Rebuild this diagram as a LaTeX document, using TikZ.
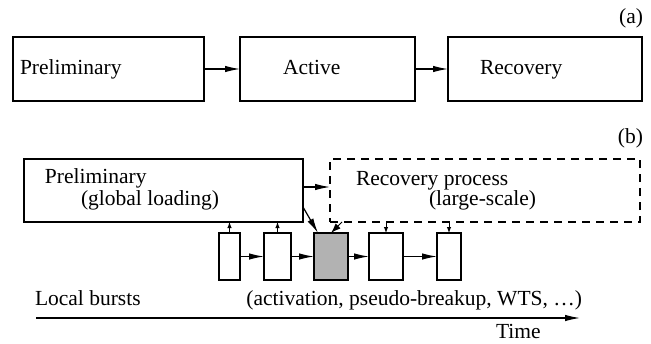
\documentclass[tikz,border=0pt]{standalone}
\usepackage{fontspec}
\setmainfont{Liberation Serif}
\newfontfamily\tmsfont{Liberation Serif}
\usetikzlibrary{arrows.meta}
\begin{document}
\begin{tikzpicture}[x=1pt,y=-1pt,
  every node/.style={inner sep=0pt,outer sep=0pt},
  lbl/.style={font=\tmsfont\fontsize{21.5}{25}\selectfont},
  boxa/.style={draw,line width=1.2pt,anchor=north west},
  dbox/.style={draw,line width=1.2pt,anchor=north west,dash pattern=on 8pt off 6pt},
  arr/.style={line width=1.2pt,-{Latex[length=15pt,width=6.5pt]}},
  sarr/.style={line width=1pt,-{Latex[length=6pt,width=4.5pt]}}]
\useasboundingbox (0,0) rectangle (651,343);
% (a)
\node[lbl,anchor=base east] (la) at (643,23) {(a)};
\node[boxa,minimum width=191pt,minimum height=64pt] (a1) at (13,37) {};
\node[boxa,minimum width=175pt,minimum height=64pt] (a2) at (240,37) {};
\node[boxa,minimum width=194pt,minimum height=64pt] (a3) at (448,37) {};
\node[lbl,anchor=base west] (t1) at (20,74) {Preliminary};
\node[lbl,anchor=base west] (t2) at (283,74) {Active};
\node[lbl,anchor=base west] (t3) at (480,74) {Recovery};
\draw[arr] (a1.east) -- (a2.west);
\draw[arr] (a2.east) -- (a3.west);
% (b)
\node[lbl,anchor=base east] (lb) at (643,143) {(b)};
\node[boxa,minimum width=279pt,minimum height=63pt] (pb) at (24,159) {};
\node[dbox,minimum width=310pt,minimum height=63pt] (rb) at (330,159) {};
\node[lbl,anchor=base west] (p1) at (45,183) {Preliminary};
\node[lbl,anchor=base west] (p2) at (81,205) {(global loading)};
\node[lbl,anchor=base west] (r1) at (356,185) {Recovery process};
\node[lbl,anchor=base west] (r2) at (429,205) {(large-scale)};
\draw[arr] ([yshift=3.5pt]pb.east) -- ([yshift=3.5pt]rb.west);
% small boxes
\node[boxa,minimum width=21pt,minimum height=47pt] (s1) at (219,233) {};
\node[boxa,minimum width=27pt,minimum height=47pt] (s2) at (264,233) {};
\node[boxa,minimum width=34pt,minimum height=47pt,fill=black!30] (g) at (314,233) {};
\node[boxa,minimum width=34pt,minimum height=47pt] (s4) at (369,233) {};
\node[boxa,minimum width=24pt,minimum height=47pt] (s5) at (437,233) {};
\draw[arr] (s1.east) -- (s2.west);
\draw[arr] (s2.east) -- (g.west);
\draw[arr] (g.east) -- (s4.west);
\draw[arr] (s4.east) -- (s5.west);
\draw[arr] ([yshift=-16.5pt]pb.east) -- ([xshift=4pt]g.north west);
\draw[sarr,-{Latex[length=10pt,width=7pt]}] ([xshift=12pt]rb.south west) -- ([xshift=17pt]g.north west);
\draw[sarr] (s1.north) -- (s1.north |- pb.south);
\draw[sarr] (s2.north) -- (s2.north |- pb.south);
\draw[sarr] (s4.north |- rb.south) -- (s4.north);
\draw[sarr] (s5.north |- rb.south) -- (s5.north);
% time axis
\node[lbl,anchor=base west] (lo) at (35,305) {Local bursts};
\node[lbl,anchor=base east] (ac) at (582,305) {(activation, pseudo-breakup, WTS, …)};
\coordinate (ta) at (36,318);
\coordinate (tb) at (580,318);
\draw[line width=1.2pt,-{Latex[length=15pt,width=6.5pt]}] (ta) -- (tb);
\node[lbl,anchor=base west] (tm) at (496,338) {Time};
\end{tikzpicture}
\end{document}
